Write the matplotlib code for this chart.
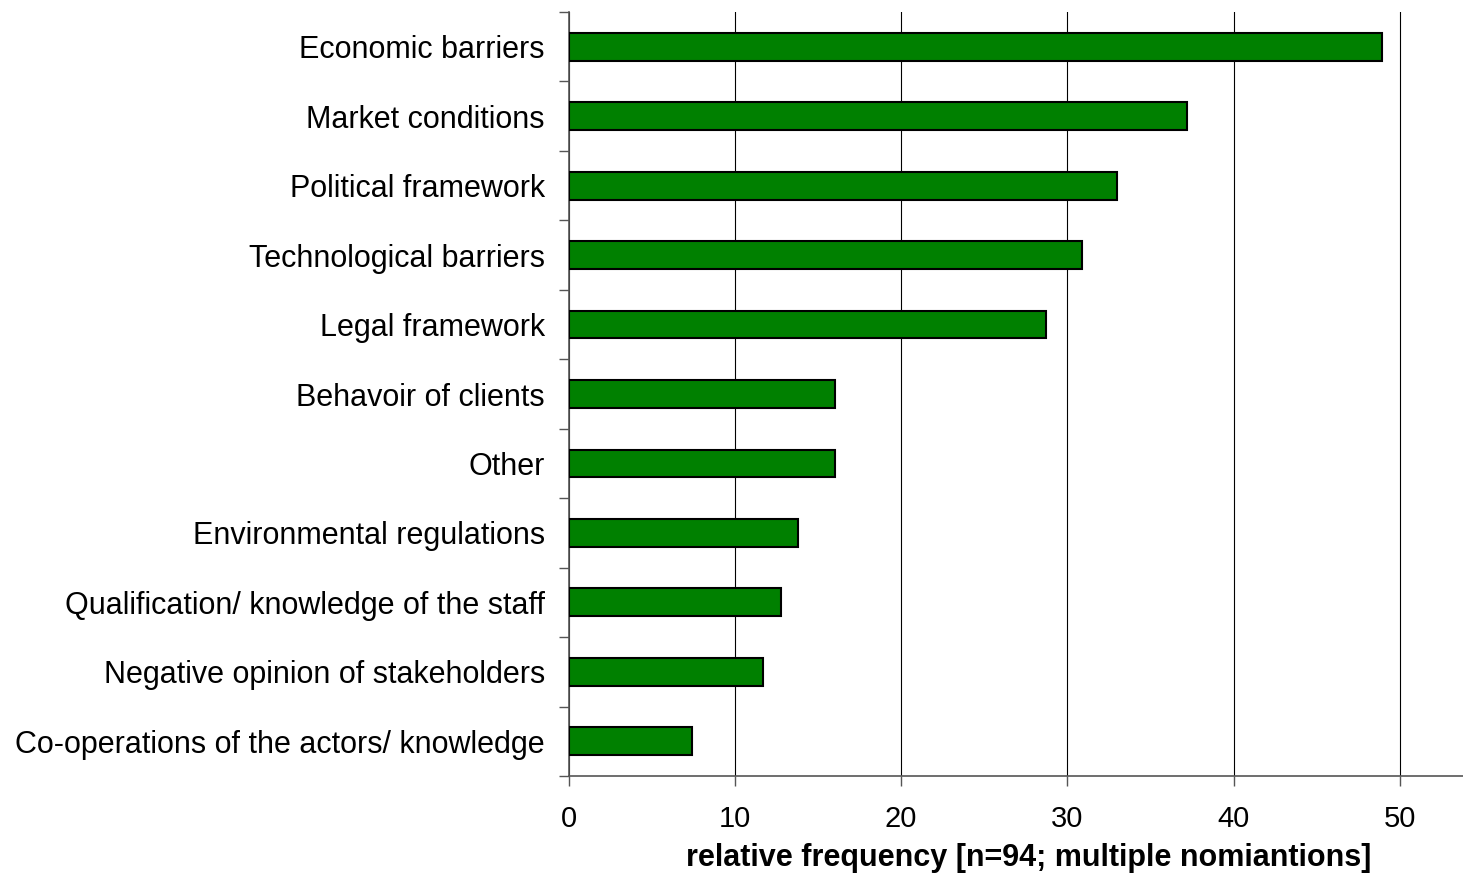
import numpy as np
import matplotlib
matplotlib.use('Agg')
from matplotlib import pyplot as plt

# --- data (percent of n=94 nominations)
categories = ['Economic barriers', 'Market conditions', 'Political framework',
              'Technological barriers', 'Legal framework', 'Behavoir of clients',
              'Other', 'Environmental regulations',
              'Qualification/ knowledge of the staff',
              'Negative opinion of stakeholders',
              'Co-operations of the actors/ knowledge']
values = [48.9, 37.2, 33.0, 30.9, 28.7, 16.0, 16.0, 13.8, 12.8, 11.7, 7.4]
xticks = [0, 10, 20, 30, 40, 50]

plt.rcParams['font.family'] = ['Liberation Sans', 'DejaVu Sans']

fig = plt.figure(figsize=(14.63, 8.74), dpi=100)
ax = fig.add_axes([568.5/1463, 1 - 776/874, 1 - 568.5/1463, (776 - 12)/874])

y = np.arange(len(categories))
ax.barh(y, values, height=0.4, color='#008000', edgecolor='black', linewidth=1.5, zorder=3)

ax.set_xlim(0, 53.8)
ax.set_ylim(len(categories) - 0.5, -0.5)

ax.set_xticks(xticks)
ax.set_xticklabels([str(t) for t in xticks], fontsize=21)
ax.xaxis.grid(True, color='black', linewidth=0.8, zorder=0)
ax.tick_params(axis='x', length=7, width=1, color='#555555', pad=14)

ax.set_yticks(y)
ax.set_yticklabels(categories, fontsize=22)
ax.set_yticks(np.arange(len(categories) + 1) - 0.5, minor=True)
ax.tick_params(axis='y', which='major', length=0, pad=17)
ax.tick_params(axis='y', which='minor', length=7, width=1, color='#555555')

for s in ['top', 'right']:
    ax.spines[s].set_visible(False)
for s in ['left', 'bottom']:
    ax.spines[s].set_color('#555555')
    ax.spines[s].set_linewidth(1.2)

ax.set_xlabel('relative frequency [n=94; multiple nomiantions]', fontsize=22,
              fontweight='bold')
ax.xaxis.set_label_coords((1029 - 568.5)/(1463 - 568.5), -0.088)

fig.savefig('out.png', dpi=100)
